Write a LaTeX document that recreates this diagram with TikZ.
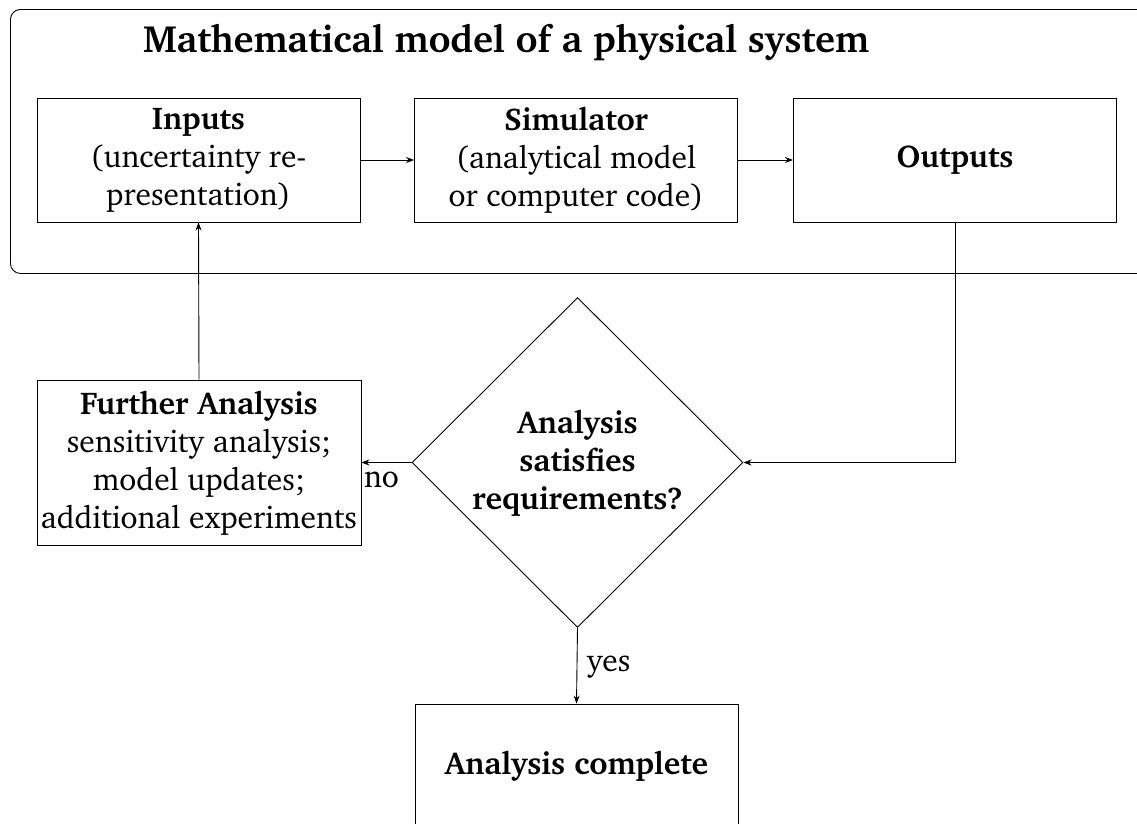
\documentclass[tikz,border=0pt]{standalone}
\usepackage[T1]{fontenc}
\usepackage{charter}
\usetikzlibrary{shapes.geometric,arrows.meta}
\begin{document}
\begin{tikzpicture}[x=1pt,y=-1pt,
  every node/.style={font=\fontsize{31.5}{38}\selectfont},
  box/.style={draw,line width=0.9pt,rectangle,minimum width=323pt,minimum height=124pt,align=center,inner sep=0pt},
  conn/.style={line width=0.9pt,-{Stealth[length=8pt,width=6pt]}},
  lbl/.style={font=\fontsize{31.5}{38}\selectfont}]
\useasboundingbox (0,0) rectangle (1137,823);
\node[draw,line width=0.9pt,rounded corners=10pt,minimum width=1160pt,minimum height=264pt,anchor=north west,inner sep=0pt] (outer) at (10,9) {};
\node[anchor=base,font=\bfseries\fontsize{38}{40}\selectfont] (title) at (506,52) {Mathematical model of a physical system};
\node[box] (inp) at (198.5,160) {\textbf{Inputs}\\(uncertainty re-\\presentation)};
\node[box] (sim) at (576,160) {\textbf{Simulator}\\(analytical model\\or computer code)};
\node[box] (out) at (955,160) {\textbf{Outputs}};
\node[box,minimum width=324pt,minimum height=165pt] (fur) at (199,462.5) {\textbf{Further Analysis}\\sensitivity analysis;\\model updates;\\additional experiments};
\node[draw,line width=0.9pt,diamond,minimum width=331pt,minimum height=330pt,inner sep=0pt,align=center,font=\bfseries\fontsize{31.5}{38}\selectfont] (dia) at (577.5,462.5) {Analysis\\satisfies\\requirements?};
\node[box] (comp) at (576.5,766) {\textbf{Analysis complete}};
\draw[conn] (inp.east) -- (sim.west);
\draw[conn] (sim.east) -- (out.west);
\draw[conn] (out.south) |- (dia.east);
\draw[conn] (dia.west) -- node[lbl,below,pos=0.6,yshift=-6pt] {no} (fur.east);
\draw[conn] (fur.north) -- (inp.south);
\draw[conn] (dia.south) -- node[lbl,right,pos=0.45,xshift=6pt,yshift=-5pt] {yes} (comp.north);
\end{tikzpicture}
\end{document}
